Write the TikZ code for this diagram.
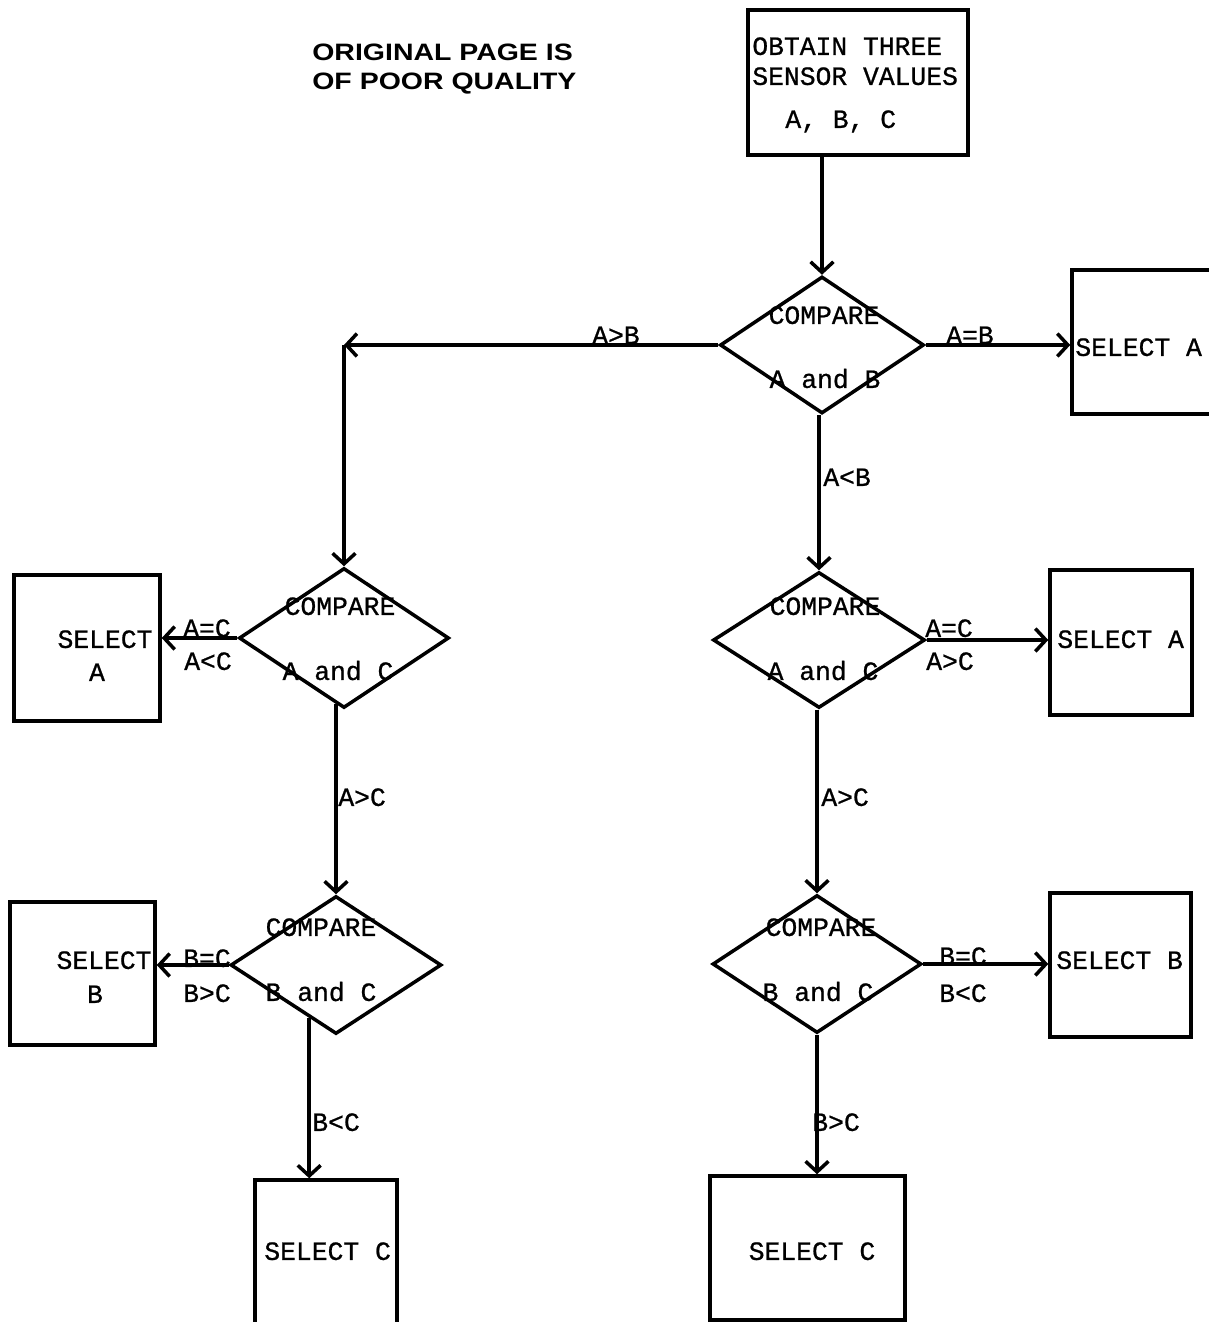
\documentclass[tikz,border=0pt]{standalone}
\usepackage{fontspec}
\setmonofont{Liberation Mono}[FakeBold=0.8]
\newfontfamily\titlefont{Liberation Sans}
\usetikzlibrary{arrows.meta,shapes.geometric,calc}
\begin{document}
\begin{tikzpicture}[x=0.02cm,y=-0.02cm,
  box/.style={draw,line width=2pt,inner sep=0pt},
  dia/.style={draw,diamond,line width=2pt,inner sep=0pt},
  arr/.style={line width=2pt,-{Straight Barb[length=6pt,width=13pt]}},
  txt/.style={font=\ttfamily\fontsize{15}{17}\selectfont,inner sep=0pt,text height=9pt,text depth=0pt},
  ttl/.style={font=\titlefont\bfseries\fontsize{13.5}{16}\selectfont,inner sep=0pt,anchor=west,text height=9.7pt,text depth=0pt}
]
\useasboundingbox (0,0) rectangle (1209,1322);
\clip (0,0) rectangle (1209,1322);

% title
\node[ttl] (t1) at (312,52) {\scalebox{1.2}[1]{ORIGINAL PAGE IS}};
\node[ttl] (t2) at (312,81) {\scalebox{1.2}[1]{OF POOR QUALITY}};

% start box
\node[box,minimum width=4.4cm,minimum height=2.9cm] (start) at (858,82.5) {};
\node[txt,anchor=west] (s1) at (752,47) {OBTAIN THREE};
\node[txt,anchor=west] (s2) at (752,77) {SENSOR VALUES};
\node[txt,anchor=west] (s3) at (785,120) {A, B, C};

% diamonds
\node[dia,minimum width=4.08cm,minimum height=2.74cm] (d1) at (822,345) {};
\node[dia,minimum width=4.2cm,minimum height=2.8cm] (d2) at (344,638) {};
\node[dia,minimum width=4.22cm,minimum height=2.76cm] (d3) at (336,965) {};
\node[dia,minimum width=4.24cm,minimum height=2.72cm] (d4) at (819,640) {};
\node[dia,minimum width=4.18cm,minimum height=2.76cm] (d5) at (817,964) {};

\node[txt] (d1a) at (824,316) {COMPARE};
\node[txt] (d1b) at (825,380) {A and B};
\node[txt] (d2a) at (340,607) {COMPARE};
\node[txt] (d2b) at (338,672) {A and C};
\node[txt] (d3a) at (321,928) {COMPARE};
\node[txt] (d3b) at (321,993) {B and C};
\node[txt] (d4a) at (825,607) {COMPARE};
\node[txt] (d4b) at (823,672) {A and C};
\node[txt] (d5a) at (821,928) {COMPARE};
\node[txt] (d5b) at (818,993) {B and C};

% result boxes
\node[box,minimum width=3.16cm,minimum height=2.88cm] (sa1) at (1151,342) {};
\node[box,minimum width=2.92cm,minimum height=2.92cm] (sa2) at (87,648) {};
\node[box,minimum width=2.84cm,minimum height=2.9cm] (sa3) at (1121,642.5) {};
\node[box,minimum width=2.9cm,minimum height=2.86cm] (sb1) at (82.5,973.5) {};
\node[box,minimum width=2.82cm,minimum height=2.88cm] (sb2) at (1120.5,965) {};
\node[box,minimum width=2.84cm,minimum height=3.2cm] (sc1) at (326,1260) {};
\node[box,minimum width=3.9cm,minimum height=2.88cm] (sc2) at (807.5,1248) {};

\node[txt,anchor=west] (sa1t) at (1075,348) {SELECT A};
\node[txt] (sa2t) at (105,640) {SELECT};
\node[txt] (sa2u) at (97,673) {A};
\node[txt,anchor=west] (sa3t) at (1057,640) {SELECT A};
\node[txt] (sb1t) at (104,961) {SELECT};
\node[txt] (sb1u) at (95,995) {B};
\node[txt,anchor=west] (sb2t) at (1056,961) {SELECT B};
\node[txt,anchor=west] (sc1t) at (264,1252) {SELECT C};
\node[txt] (sc2t) at (812,1252) {SELECT C};

% connectors
\draw[arr] (start.south -| d1.north) -- (d1.north);
\draw[arr] (d1.east) -- (d1.east -| sa1.west);
\coordinate (k1) at (d2.north |- d1.west);
\draw[arr] (d1.west) -- (k1);
\draw[arr] (k1) -- (d2.north);
\draw[arr] (d4.north |- d1.south) -- (d4.north);
\draw[arr] (d2.west) -- (d2.west -| sa2.east);
\coordinate (p2) at ($(d2.west)!0.92!(d2.south)$);
\draw[arr] (d3.north |- p2) -- (d3.north);
\draw[arr] (d3.west) -- (d3.west -| sb1.east);
\coordinate (p3) at ($(d3.west)!0.75!(d3.south)$);
\draw[arr] (p3) -- (p3 |- sc1.north);
\draw[arr] (d4.east) -- (d4.east -| sa3.west);
\draw[arr] (d5.north |- d4.south) -- (d5.north);
\draw[arr] (d5.east) -- (d5.east -| sb2.west);
\draw[arr] (d5.south) -- (d5.south |- sc2.north);

% connector labels
\node[txt] (l1) at (616,336) {A>B};
\node[txt] (l2) at (970,336) {A=B};
\node[txt,anchor=west] (l3) at (823,478) {A<B};
\node[txt] (l4) at (207,629) {A=C};
\node[txt] (l5) at (208,662) {A<C};
\node[txt,anchor=west] (l6) at (338,798) {A>C};
\node[txt] (l7) at (207,959) {B=C};
\node[txt] (l8) at (207,994) {B>C};
\node[txt,anchor=west] (l9) at (312,1123) {B<C};
\node[txt] (l10) at (949,629) {A=C};
\node[txt] (l11) at (950,662) {A>C};
\node[txt,anchor=west] (l12) at (821,798) {A>C};
\node[txt] (l13) at (963,957) {B=C};
\node[txt] (l14) at (963,994) {B<C};
\node[txt,anchor=west] (l15) at (812,1123) {B>C};
\end{tikzpicture}
\end{document}
